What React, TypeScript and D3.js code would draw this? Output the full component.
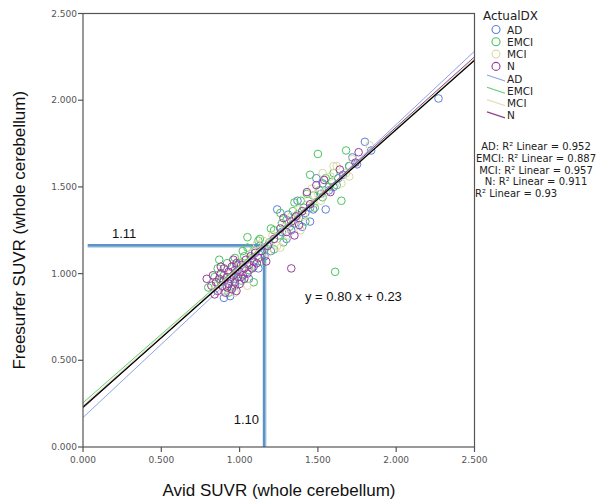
import React from "react";
import * as d3 from "d3";

const groups = ["AD", "EMCI", "MCI", "N"];
const groupColors = ["#5f7fd9", "#4cc35e", "#ddd8a6", "#973d9c"];
const lineColors = ["#8ea3e4", "#5fd06e", "#e6dfb9", "#8e3f90"];

const adPoints: [number, number][] = [[0.90,0.86],[0.94,0.87],[0.97,0.93],[1.01,0.98],[1.06,0.97],[1.09,1.04],[1.12,1.03],[1.16,1.10],[1.20,1.13],[1.24,1.37],[1.27,1.24],[1.30,1.20],[1.33,1.25],[1.35,1.29],[1.38,1.32],[1.40,1.27],[1.42,1.35],[1.45,1.38],[1.47,1.37],[1.49,1.55],[1.52,1.46],[1.55,1.37],[1.57,1.48],[1.60,1.50],[1.63,1.55],[1.66,1.57],[1.70,1.62],[1.72,1.67],[1.75,1.63],[1.80,1.76],[1.84,1.71],[2.27,2.01],[1.45,1.30],[1.37,1.42],[1.13,1.16],[0.98,1.05],[1.53,1.52],[1.31,1.34]];
const emciPoints: [number, number][] = [[0.80,0.92],[0.84,0.98],[0.86,1.03],[0.88,0.95],[0.90,0.99],[0.92,1.06],[0.93,0.89],[0.95,0.98],[0.97,1.09],[0.98,1.01],[1.00,1.06],[1.01,0.96],[1.03,1.10],[1.05,1.15],[1.06,1.02],[1.08,1.09],[1.09,0.95],[1.10,1.13],[1.12,1.19],[1.05,1.21],[1.13,1.20],[1.16,1.14],[1.19,1.18],[1.22,1.25],[1.25,1.22],[1.27,1.29],[1.30,1.31],[1.32,1.27],[1.34,1.36],[1.37,1.34],[1.39,1.42],[1.41,1.38],[1.42,1.30],[1.45,1.57],[1.50,1.69],[1.47,1.45],[1.51,1.48],[1.53,1.44],[1.57,1.50],[1.59,1.53],[1.60,1.58],[1.62,1.51],[1.65,1.42],[1.68,1.71],[1.70,1.62],[1.61,1.01],[1.22,1.14],[1.28,1.18],[1.35,1.41],[1.43,1.46],[0.87,1.08],[0.95,0.92],[1.02,1.13],[1.14,1.07],[1.20,1.26],[1.26,1.35],[1.48,1.38],[1.55,1.55]];
const mciPoints: [number, number][] = [[0.85,0.93],[0.90,0.90],[0.94,1.00],[0.99,1.07],[1.02,1.02],[1.05,0.93],[1.08,1.12],[1.11,1.17],[1.15,1.19],[1.18,1.12],[1.21,1.22],[1.24,1.16],[1.26,1.15],[1.29,1.27],[1.31,1.22],[1.33,1.33],[1.36,1.30],[1.38,1.37],[1.41,1.33],[1.44,1.43],[1.47,1.40],[1.50,1.46],[1.52,1.42],[1.55,1.47],[1.58,1.56],[1.60,1.62],[1.62,1.62],[1.65,1.52],[1.68,1.58],[1.70,1.56],[1.83,1.74],[1.72,1.66],[0.97,0.89],[1.07,1.04],[1.39,1.25],[1.46,1.49],[1.53,1.58]];
const nPoints: [number, number][] = [[0.79,0.97],[0.82,0.93],[0.83,0.99],[0.85,0.95],[0.86,0.90],[0.87,0.97],[0.88,1.00],[0.89,0.93],[0.90,0.96],[0.90,1.03],[0.91,0.89],[0.92,0.98],[0.93,1.01],[0.93,0.94],[0.94,0.97],[0.95,1.04],[0.95,0.91],[0.96,0.99],[0.97,1.02],[0.97,0.95],[0.98,1.06],[0.99,0.98],[1.00,1.01],[1.00,0.94],[1.01,1.05],[1.02,0.99],[1.03,1.03],[1.04,1.08],[1.05,1.00],[1.06,1.05],[1.07,1.10],[1.08,1.03],[1.09,1.07],[1.10,1.12],[1.11,1.06],[1.12,1.09],[1.14,1.13],[1.17,1.07],[1.33,1.03],[1.22,1.20],[1.26,1.26],[1.30,1.24],[1.33,1.30],[1.36,1.33],[1.38,1.28],[1.40,1.36],[1.43,1.47],[1.45,1.40],[1.49,1.51],[1.54,1.54],[1.58,1.47],[1.64,1.60],[1.74,1.64],[1.76,1.70],[0.84,0.88],[0.92,0.92],[0.98,0.90],[1.03,0.97],[0.88,1.04],[0.96,1.08],[1.18,1.16],[1.28,1.32],[1.35,1.22]];
const groupPoints = [adPoints, emciPoints, mciPoints, nPoints];

// fit lines: [intercept, slope]
const fitLines: [number, number][] = [[0.17, 0.845], [0.255, 0.79], [0.24, 0.80], [0.225, 0.81]];
const totalFit: [number, number] = [0.23, 0.80];
const r2Labels = ["AD: R² Linear = 0.952", "EMCI: R² Linear = 0.887", "MCI: R² Linear = 0.957", "N: R² Linear = 0.911"];
const r2Total = "R² Linear = 0.93";

const ticks = [0, 0.5, 1.0, 1.5, 2.0, 2.5];
const refX = 1.156;
const refY = 1.163;

export default function App() {
  const W = 599, H = 504;
  const left = 83, right = 474.5, top = 13.5, bottom = 447;
  const x = d3.scaleLinear().domain([0, 2.5]).range([left, right]);
  const y = d3.scaleLinear().domain([0, 2.5]).range([bottom, top]);
  const fmt = d3.format(".3f");
  const axisColor = "#555";
  const line = d3.line<[number, number]>().x(d => x(d[0])).y(d => y(d[1]));
  const fitPath = (f: [number, number]) => line([[0, f[0]], [2.5, f[0] + 2.5 * f[1]]]) || "";
  const tickFont = "DejaVu Sans, sans-serif";
  return (
    <svg width={W} height={H} style={{ position: "absolute", left: 0, top: 0, background: "#fff" }}>
      <defs>
        <clipPath id="plot"><rect x={left} y={top} width={right - left} height={bottom - top} /></clipPath>
      </defs>
      <rect x={0} y={0} width={W} height={H} fill="#fff" />
      {/* annotation lines */}
      <g>
        <line x1={x(0.03)} x2={x(refX) + 1} y1={y(refY) + 1.5} y2={y(refY) + 1.5} stroke="#b5cbe3" strokeWidth={2} />
        <line x1={x(refX) + 1.5} x2={x(refX) + 1.5} y1={y(refY)} y2={bottom} stroke="#b5cbe3" strokeWidth={2} />
        <line x1={x(0.03)} x2={x(refX) + 1.5} y1={y(refY)} y2={y(refY)} stroke="#5b92c8" strokeWidth={2.5} />
        <line x1={x(refX)} x2={x(refX)} y1={y(refY)} y2={bottom} stroke="#5b92c8" strokeWidth={2.5} />
      </g>
      {/* points */}
      <g>
        {groupPoints.map((pts, gi) => pts.map((p, i) => (
          <circle key={gi + "-" + i} cx={x(p[0])} cy={y(p[1])} r={3.8} fill="none" stroke={groupColors[gi]} strokeWidth={1} />
        )))}
      </g>
      {/* fit lines */}
      <g clipPath="url(#plot)">
        {fitLines.map((f, i) => (
          <path key={i} d={fitPath(f)} stroke={lineColors[i]} strokeWidth={1} fill="none" />
        ))}
        <path d={fitPath(totalFit)} stroke="#000" strokeWidth={1.2} fill="none" />
      </g>
      {/* frame */}
      <rect x={left} y={top} width={right - left} height={bottom - top} fill="none" stroke={axisColor} strokeWidth={1.2} />
      {ticks.map((t, i) => (
        <g key={"y" + i}>
          <line x1={left - 5} x2={left} y1={y(t)} y2={y(t)} stroke={axisColor} strokeWidth={1.2} />
          <text x={left - 6} y={y(t) + 3} textAnchor="end" fontSize={9} fill="#555" fontFamily={tickFont}>{fmt(t)}</text>
        </g>
      ))}
      {ticks.map((t, i) => (
        <g key={"x" + i}>
          <line x1={x(t)} x2={x(t)} y1={bottom} y2={bottom + 5} stroke={axisColor} strokeWidth={1.2} />
          <text x={x(t)} y={bottom + 16} textAnchor="middle" fontSize={9} fill="#555" fontFamily={tickFont}>{fmt(t)}</text>
        </g>
      ))}
      {/* axis titles */}
      <text x={279} y={496} textAnchor="middle" fontSize={17} fontFamily="Liberation Sans, Arial, sans-serif" fill="#111">Avid SUVR (whole cerebellum)</text>
      <text transform={`translate(25,${(top + bottom) / 2}) rotate(-90)`} textAnchor="middle" fontSize={17} fontFamily="Liberation Sans, Arial, sans-serif" fill="#111">Freesurfer SUVR (whole cerebellum)</text>
      {/* annotation texts */}
      <text x={112} y={238} fontSize={13} fontFamily="Liberation Sans, Arial, sans-serif" fill="#111">1.11</text>
      <text x={259} y={424} textAnchor="end" fontSize={13} fontFamily="Liberation Sans, Arial, sans-serif" fill="#111">1.10</text>
      <text x={305} y={301} fontSize={13} fontFamily="Liberation Sans, Arial, sans-serif" fill="#111">y = 0.80 x + 0.23</text>
      {/* legend */}
      <g fontFamily="DejaVu Sans, sans-serif" fill="#222">
        <text x={483} y={20} fontSize={12}>ActualDX</text>
        {groups.map((g, i) => (
          <g key={"lc" + i}>
            <circle cx={496} cy={29.5 + i * 12.3} r={4} fill="none" stroke={groupColors[i]} strokeWidth={1.1} />
            <text x={507} y={33.5 + i * 12.3} fontSize={10.5}>{g}</text>
          </g>
        ))}
        {groups.map((g, i) => (
          <g key={"ll" + i}>
            <line x1={487} y1={75 + i * 12.3} x2={505} y2={81 + i * 12.3} stroke={lineColors[i]} strokeWidth={1.2} />
            <text x={507} y={82.5 + i * 12.3} fontSize={10.5}>{g}</text>
          </g>
        ))}
        {r2Labels.map((s, i) => (
          <text key={"r" + i} x={536} y={150 + i * 11.8} textAnchor="middle" fontSize={10}>{s}</text>
        ))}
        <text x={475} y={197} fontSize={10}>{r2Total}</text>
      </g>
    </svg>
  );
}
